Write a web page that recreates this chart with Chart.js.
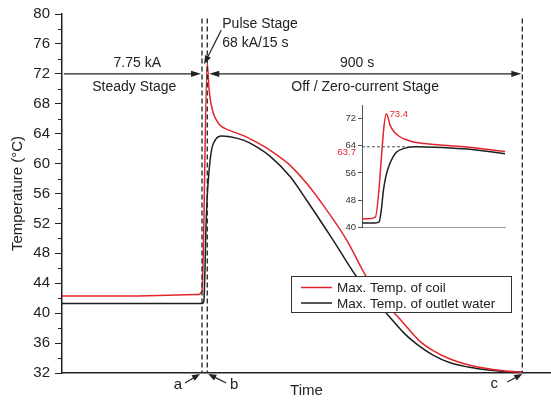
<!DOCTYPE html>
<html>
<head>
<meta charset="utf-8">
<script src="https://cdn.jsdelivr.net/npm/chart.js@4.4.1/dist/chart.umd.min.js"></script>
<style>
  html, body { margin: 0; padding: 0; background: #fff; }
  #wrap { position: relative; width: 551px; height: 400px; }
  #inset { position: absolute; left: 318px; top: 95px; }
</style>
</head>
<body>
<div id="wrap">
  <canvas id="tempChart" width="551" height="400"></canvas>
  <canvas id="inset" width="192" height="140"></canvas>
</div>
<script>
// time in seconds, 0 = start of the pulse
const coilTime = [-400, -200, -10, 0, 15, 20, 25, 32, 40, 50, 65, 80, 120, 150, 194, 251, 300, 336, 413, 469, 520, 564, 621, 660, 707, 760, 801, 860, 915];
const coilTemp = [42.3, 42.3, 42.5, 43.0, 73.4, 70.0, 68.2, 66.8, 65.9, 65.2, 64.7, 64.4, 63.7, 63.0, 61.8, 59.8, 57.3, 55.1, 49.8, 44.9, 41.6, 39.3, 36.3, 35.0, 33.9, 33.1, 32.7, 32.3, 32.1];
const waterTime = [-400, -200, 0, 5, 8, 11, 14.5, 20, 28, 40, 55, 80, 120, 150, 194, 251, 299, 374, 441, 490, 536, 580, 621, 660, 707, 760, 801, 860, 915];
const waterTemp = [41.3, 41.3, 41.3, 41.5, 45.0, 51.0, 55.3, 59.0, 62.0, 63.3, 63.7, 63.6, 63.1, 62.4, 61.0, 58.3, 55.1, 49.8, 44.9, 42.0, 39.5, 37.2, 35.6, 34.4, 33.4, 32.8, 32.5, 32.2, 32.1];

const seriesLabels = ['Max. Temp. of coil', 'Max. Temp. of outlet water'];
const seriesColors = ['#e3252b', '#1e1e1e'];

const stageBounds = [0, 15, 915];   // a, b, c
const stageMarks = ['a', 'b', 'c'];
const peakCoil = 73.4;
const peakWater = 63.7;

Chart.defaults.font.family = "'Liberation Sans', Arial, sans-serif";
Chart.defaults.color = '#222';

function toPoints(xs, ys) {
    return xs.map((x, i) => ({ x: x, y: ys[i] }));
}

function makeDatasets(width) {
    return [
        { label: seriesLabels[0], data: toPoints(coilTime, coilTemp), borderColor: seriesColors[0], borderWidth: width },
        { label: seriesLabels[1], data: toPoints(waterTime, waterTemp), borderColor: seriesColors[1], borderWidth: width }
    ].map(d => Object.assign(d, { pointRadius: 0, fill: false, cubicInterpolationMode: 'monotone' }));
}

// filled arrow head with its tip at (x2, y2)
function arrow(ctx, x1, y1, x2, y2, head) {
    const ang = Math.atan2(y2 - y1, x2 - x1);
    ctx.beginPath();
    ctx.moveTo(x1, y1);
    ctx.lineTo(x2 - Math.cos(ang) * head * 0.8, y2 - Math.sin(ang) * head * 0.8);
    ctx.stroke();
    ctx.beginPath();
    ctx.moveTo(x2, y2);
    ctx.lineTo(x2 - head * Math.cos(ang) + 3.2 * Math.sin(ang), y2 - head * Math.sin(ang) - 3.2 * Math.cos(ang));
    ctx.lineTo(x2 - head * Math.cos(ang) - 3.2 * Math.sin(ang), y2 - head * Math.sin(ang) + 3.2 * Math.cos(ang));
    ctx.closePath();
    ctx.fill();
}

// stage markers, arrows, labels, minor ticks and legend
const stagePlugin = {
    id: 'stages',
    afterDraw(chart) {
        const ctx = chart.ctx;
        const xs = chart.scales.x, ys = chart.scales.y;
        const area = chart.chartArea;
        const bx = stageBounds.map(v => xs.getPixelForValue(v));
        ctx.save();
        ctx.strokeStyle = '#222';
        ctx.fillStyle = '#222';

        // minor ticks
        ctx.lineWidth = 1;
        for (let v = 34; v < 80; v += 4) {
            const y = Math.round(ys.getPixelForValue(v)) + 0.5;
            ctx.beginPath();
            ctx.moveTo(area.left - 4, y);
            ctx.lineTo(area.left, y);
            ctx.stroke();
        }

        // dashed stage boundaries
        ctx.lineWidth = 1.3;
        ctx.setLineDash([5, 3]);
        const top = ys.getPixelForValue(79.4);
        bx.forEach(x => {
            ctx.beginPath();
            ctx.moveTo(x, top);
            ctx.lineTo(x, area.bottom);
            ctx.stroke();
        });
        ctx.setLineDash([]);

        // duration arrows
        ctx.lineWidth = 1.2;
        const ay = ys.getPixelForValue(72);
        arrow(ctx, area.left + 2, ay, bx[0] - 1, ay, 10);
        arrow(ctx, (bx[1] + bx[2]) / 2, ay, bx[1] + 2, ay, 10);
        arrow(ctx, (bx[1] + bx[2]) / 2, ay, bx[2] - 1, ay, 10);

        ctx.font = '14px "Liberation Sans", Arial, sans-serif';
        ctx.textAlign = 'center';
        ctx.textBaseline = 'middle';
        const leftMid = xs.getPixelForValue(-185);
        ctx.fillText('7.75 kA', leftMid, ay - 11);
        ctx.fillText('Steady Stage', leftMid - 3, ay + 13);
        ctx.fillText('900 s', xs.getPixelForValue(443), ay - 11);
        ctx.fillText('Off / Zero-current Stage', xs.getPixelForValue(466), ay + 13);

        // pulse stage callout
        ctx.textAlign = 'left';
        ctx.fillText('Pulse Stage', bx[1] + 15, 24);
        ctx.fillText('68 kA/15 s', bx[1] + 15, 43);
        arrow(ctx, bx[1] + 14, 30, bx[0] + 2, ys.getPixelForValue(peakCoil) + 1, 9);

        // a / b / c pointers under the axis
        ctx.font = '15px "Liberation Sans", Arial, sans-serif';
        ctx.textAlign = 'center';
        const by = area.bottom;
        arrow(ctx, bx[0] - 17, by + 10, bx[0] - 2, by + 1, 8);
        ctx.fillText(stageMarks[0], bx[0] - 24, by + 12);
        arrow(ctx, bx[1] + 19, by + 10, bx[1] + 1, by + 1, 8);
        ctx.fillText(stageMarks[1], bx[1] + 27, by + 12);
        arrow(ctx, bx[2] - 15, by + 9, bx[2], by + 1, 8);
        ctx.fillText(stageMarks[2], bx[2] - 28, by + 11);

        // legend box
        const lx = 291, ly = 276, lw = 220, lh = 36;
        ctx.fillStyle = '#fff';
        ctx.fillRect(lx, ly, lw, lh);
        ctx.strokeStyle = '#333';
        ctx.lineWidth = 1;
        ctx.strokeRect(lx + 0.5, ly + 0.5, lw, lh);
        ctx.font = '13.5px "Liberation Sans", Arial, sans-serif';
        ctx.textAlign = 'left';
        chart.data.datasets.forEach((ds, i) => {
            const y = ly + 11.5 + i * 15.5;
            ctx.strokeStyle = ds.borderColor;
            ctx.lineWidth = 1.5;
            ctx.beginPath();
            ctx.moveTo(lx + 10, y);
            ctx.lineTo(lx + 41, y);
            ctx.stroke();
            ctx.fillStyle = '#222';
            ctx.fillText(ds.label, lx + 46, y + 1);
        });
        ctx.restore();
    }
};

new Chart(document.getElementById('tempChart'), {
    type: 'line',
    data: { datasets: makeDatasets(1.5) },
    options: {
        responsive: false,
        animation: false,
        layout: { padding: { top: 14, right: 0, bottom: 0, left: 0 } },
        plugins: { legend: { display: false }, tooltip: { enabled: false } },
        scales: {
            x: {
                type: 'linear',
                min: -400,
                max: 997,
                ticks: { display: false },
                grid: { display: false },
                border: { color: '#222', width: 1.5 },
                title: { display: true, text: 'Time', font: { size: 15 }, padding: { top: 0, bottom: 0 } },
                afterFit(scale) { scale.height = 27; }
            },
            y: {
                min: 32,
                max: 80,
                ticks: { stepSize: 4, padding: 5, font: { size: 15 }, color: '#222' },
                grid: { drawOnChartArea: false, tickLength: 7, color: '#222' },
                border: { color: '#222', width: 1.5 },
                title: { display: true, text: 'Temperature (°C)', font: { size: 15 }, padding: { top: 9, bottom: 0 } },
                afterFit(scale) { scale.width = 62; }
            }
        }
    },
    plugins: [stagePlugin]
});

// enlarged view around the pulse
const insetPlugin = {
    id: 'insetMarks',
    afterDraw(chart) {
        const ctx = chart.ctx;
        const xs = chart.scales.x, ys = chart.scales.y;
        const area = chart.chartArea;
        ctx.save();
        const yp = ys.getPixelForValue(peakWater);
        ctx.strokeStyle = '#555';
        ctx.lineWidth = 1;
        ctx.setLineDash([3, 2]);
        ctx.beginPath();
        ctx.moveTo(area.left, yp);
        ctx.lineTo(xs.getPixelForValue(50), yp);
        ctx.stroke();
        ctx.setLineDash([]);
        ctx.fillStyle = seriesColors[0];
        ctx.font = '9.5px "Liberation Sans", Arial, sans-serif';
        ctx.textBaseline = 'middle';
        ctx.textAlign = 'left';
        ctx.fillText(peakCoil.toFixed(1), xs.getPixelForValue(15) + 3, ys.getPixelForValue(peakCoil) + 1);
        ctx.textAlign = 'right';
        ctx.fillText(peakWater.toFixed(1), area.left - 6, yp + 6);
        ctx.restore();
    }
};

new Chart(document.getElementById('inset'), {
    type: 'line',
    data: { datasets: makeDatasets(1.5) },
    options: {
        responsive: false,
        animation: false,
        layout: { padding: { top: 10, right: 5, bottom: 6, left: 0 } },
        plugins: { legend: { display: false }, tooltip: { enabled: false } },
        scales: {
            x: {
                type: 'linear',
                min: -18,
                max: 175,
                ticks: { display: false },
                grid: { display: false },
                border: { color: '#999', width: 1 },
                afterFit(scale) { scale.height = 0; }
            },
            y: {
                min: 40,
                max: 76,
                ticks: {
                    stepSize: 4,
                    padding: 2,
                    font: { size: 9.5 },
                    color: '#333',
                    callback: v => (v % 8 === 0 ? v : '')
                },
                grid: { drawOnChartArea: false, tickLength: 4, color: '#555' },
                border: { color: '#555', width: 1 },
                afterFit(scale) { scale.width = 44; }
            }
        }
    },
    plugins: [insetPlugin]
});
</script>
</body>
</html>
